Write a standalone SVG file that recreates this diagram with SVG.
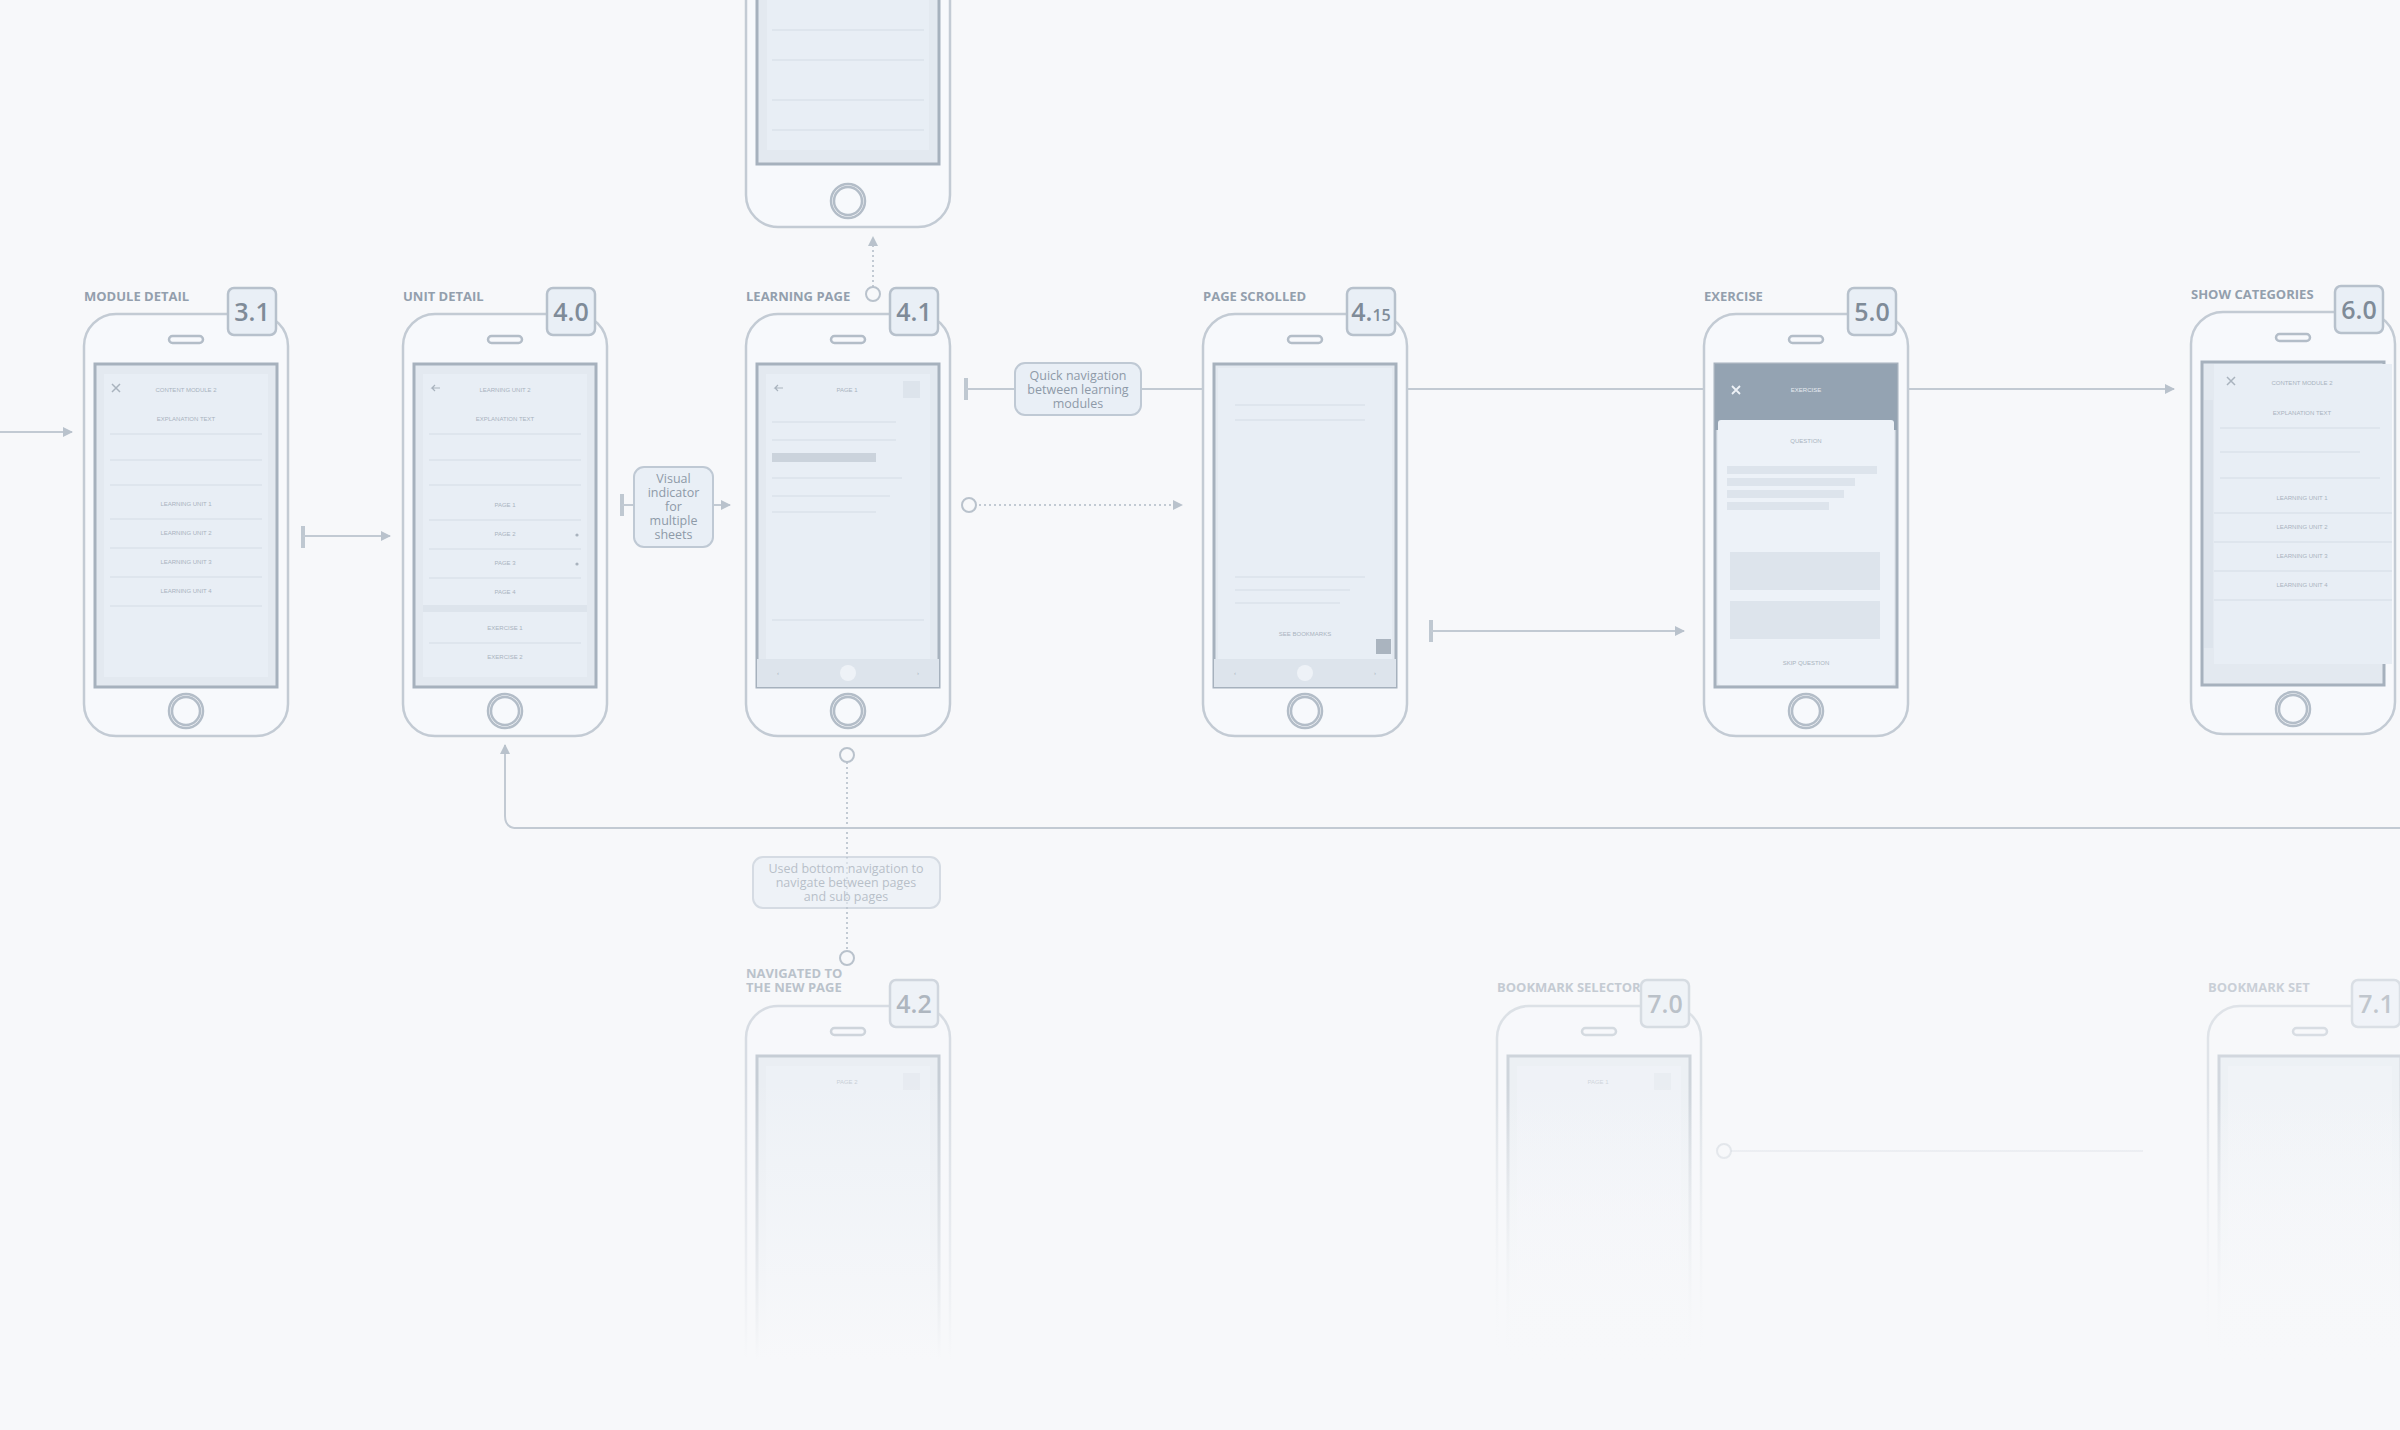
<svg xmlns="http://www.w3.org/2000/svg" width="2400" height="1430" viewBox="0 0 2400 1430">
<style>
.bg{fill:#f7f8fa}
.body{fill:#f7f9fc;stroke:#c3cbd4;stroke-width:2.5}
.scr{fill:#e3e9f0;stroke:#a6b1bd;stroke-width:3}
.pan{fill:#e8eef5}
.spk{fill:none;stroke:#b3bdc8;stroke-width:2.5}
.home{fill:none;stroke:#b3bdc8;stroke-width:2.5}
.ttl{font-family:"Open Sans","Liberation Sans",sans-serif;font-size:13px;font-weight:700;fill:#939fad}
.bdg{fill:#e9eff6;stroke:#b7c1cc;stroke-width:2.5}
.num{font-family:"Open Sans","Liberation Sans",sans-serif;font-size:25px;font-weight:600;fill:#7f8b98}
.tiny{font-family:"Liberation Sans",sans-serif;font-size:6px;fill:#a9b3be;text-anchor:middle}
.row{stroke:#dbe2ea;stroke-width:1.5}
.ln{fill:none;stroke:#c2cad3;stroke-width:2}
.bar{stroke:#bfc8d1;stroke-width:4}
.dot{fill:none;stroke:#c2cad3;stroke-width:2;stroke-dasharray:2 3}
.cir{fill:#f7f8fa;stroke:#b9c2cc;stroke-width:2}
.note{fill:#e9eff6;stroke:#bfc9d4;stroke-width:2}
.nt{font-family:"Open Sans","Liberation Sans",sans-serif;font-size:12.5px;fill:#8e9aa8;text-anchor:middle}
.blk{fill:#dde4ec}
.dark{fill:#94a3b2}
</style>
<defs>
<marker id="ar" viewBox="0 0 10 10" refX="9" refY="5" markerWidth="5" markerHeight="5" orient="auto"><path d="M0,0L10,5L0,10z" fill="#b9c2cc"/></marker>
<symbol id="phone" overflow="visible">
<rect class="body" x="0" y="0" width="204" height="422" rx="32"/>
<rect class="spk" x="85" y="22" width="34" height="7" rx="3.5"/>
<rect class="scr" x="11" y="50" width="182" height="323"/>
<circle class="home" cx="102" cy="397" r="17"/>
<circle class="home" cx="102" cy="397" r="14"/>
</symbol>
<linearGradient id="fade" x1="0" y1="0" x2="0" y2="1">
<stop offset="0" stop-color="#f7f8fa" stop-opacity="0"/>
<stop offset="0.8" stop-color="#f7f8fa" stop-opacity="1"/>
</linearGradient>
</defs>
<rect class="bg" width="2400" height="1430"/>

<g id="connectors">
<path class="ln" d="M0,432H72" marker-end="url(#ar)"/>
<path class="bar" d="M303,526V548"/><path class="ln" d="M303,536H390" marker-end="url(#ar)"/>
<path class="bar" d="M622,494V516"/><path class="ln" d="M622,505H634"/>
<path class="ln" d="M713,505H730" marker-end="url(#ar)"/>
<path class="bar" d="M966,378V400"/><path class="ln" d="M966,389H1015"/>
<path class="ln" d="M1141,389H2174" marker-end="url(#ar)"/>
<path class="dot" d="M979,505H1182" marker-end="url(#ar)"/>
<circle class="cir" cx="969" cy="505" r="7"/>
<path class="bar" d="M1431,620V642"/><path class="ln" d="M1431,631H1684" marker-end="url(#ar)"/>
<path class="dot" d="M873,287V237" marker-end="url(#ar)"/>
<circle class="cir" cx="873" cy="294" r="7"/>
<path class="ln" d="M2400,828H517Q505,828 505,816V745" marker-end="url(#ar)"/>
<path class="dot" d="M847,762V951"/>
<circle class="cir" cx="847" cy="755" r="7"/>
<circle class="cir" cx="847" cy="958" r="7"/>
<path class="ln" d="M1731,1151H2143" opacity="0.35"/>
<circle class="cir" cx="1724" cy="1151" r="7" opacity="0.5"/>
</g>

<g id="note-visual">
<rect class="note" x="634" y="467" width="79" height="80" rx="10"/>
<text class="nt" x="673.5" y="483">Visual</text>
<text class="nt" x="673.5" y="497">indicator</text>
<text class="nt" x="673.5" y="511">for</text>
<text class="nt" x="673.5" y="525">multiple</text>
<text class="nt" x="673.5" y="539">sheets</text>
</g>
<g id="note-quick">
<rect class="note" x="1015" y="363" width="126" height="52" rx="10"/>
<text class="nt" x="1078" y="380">Quick navigation</text>
<text class="nt" x="1078" y="394">between learning</text>
<text class="nt" x="1078" y="408">modules</text>
</g>
<g id="note-bottom" opacity="0.6">
<rect class="note" x="753" y="857" width="187" height="51" rx="10"/>
<text class="nt" x="846" y="873">Used bottom navigation to</text>
<text class="nt" x="846" y="887">navigate between pages</text>
<text class="nt" x="846" y="901">and sub pages</text>
</g>

<g id="phone-top">
<rect class="body" x="746" y="-200" width="204" height="427" rx="32"/>
<rect class="scr" x="757" y="-10" width="182" height="174"/>
<rect class="pan" x="767" y="0" width="162" height="150"/>
<line class="row" x1="772" y1="30" x2="924" y2="30"/><line class="row" x1="772" y1="60" x2="924" y2="60"/><line class="row" x1="772" y1="100" x2="924" y2="100"/><line class="row" x1="772" y1="130" x2="924" y2="130"/>
<circle class="home" cx="848" cy="201" r="17"/><circle class="home" cx="848" cy="201" r="14"/>
</g>

<g id="n31">
<text class="ttl" x="84" y="301">MODULE DETAIL</text>
<use href="#phone" x="84" y="314"/>
<rect class="pan" x="104" y="374" width="164" height="303"/>
<text class="tiny" x="186" y="392">CONTENT MODULE 2</text>
<path d="M112,384l8,8M120,384l-8,8" stroke="#a9b3be" stroke-width="1.5"/>
<text class="tiny" x="186" y="421">EXPLANATION TEXT</text>
<line class="row" x1="110" y1="434" x2="262" y2="434"/><line class="row" x1="110" y1="460" x2="262" y2="460"/><line class="row" x1="110" y1="485" x2="262" y2="485"/>
<text class="tiny" x="186" y="506">LEARNING UNIT 1</text><line class="row" x1="110" y1="519" x2="262" y2="519"/>
<text class="tiny" x="186" y="535">LEARNING UNIT 2</text><line class="row" x1="110" y1="548" x2="262" y2="548"/>
<text class="tiny" x="186" y="564">LEARNING UNIT 3</text><line class="row" x1="110" y1="577" x2="262" y2="577"/>
<text class="tiny" x="186" y="593">LEARNING UNIT 4</text><line class="row" x1="110" y1="606" x2="262" y2="606"/>
<rect class="bdg" x="228" y="288" width="48" height="47" rx="6"/>
<text class="num" x="252" y="321" text-anchor="middle">3.1</text>
</g>

<g id="n40">
<text class="ttl" x="403" y="301">UNIT DETAIL</text>
<use href="#phone" x="403" y="314"/>
<rect class="pan" x="423" y="374" width="164" height="303"/>
<text class="tiny" x="505" y="392">LEARNING UNIT 2</text>
<path d="M440,388h-8l3,-3M432,388l3,3" stroke="#a9b3be" stroke-width="1.2" fill="none"/>
<text class="tiny" x="505" y="421">EXPLANATION TEXT</text>
<line class="row" x1="429" y1="434" x2="581" y2="434"/><line class="row" x1="429" y1="460" x2="581" y2="460"/><line class="row" x1="429" y1="485" x2="581" y2="485"/>
<text class="tiny" x="505" y="507">PAGE 1</text><line class="row" x1="429" y1="520" x2="581" y2="520"/>
<text class="tiny" x="505" y="536">PAGE 2</text><circle cx="577" cy="535" r="1.6" fill="#a9b3be"/><line class="row" x1="429" y1="549" x2="581" y2="549"/>
<text class="tiny" x="505" y="565">PAGE 3</text><circle cx="577" cy="564" r="1.6" fill="#a9b3be"/><line class="row" x1="429" y1="578" x2="581" y2="578"/>
<text class="tiny" x="505" y="594">PAGE 4</text>
<rect class="blk" x="423" y="605" width="164" height="7"/>
<text class="tiny" x="505" y="630">EXERCISE 1</text><line class="row" x1="429" y1="643" x2="581" y2="643"/>
<text class="tiny" x="505" y="659">EXERCISE 2</text>
<rect class="bdg" x="547" y="288" width="48" height="47" rx="6"/>
<text class="num" x="571" y="321" text-anchor="middle">4.0</text>
</g>

<g id="n41">
<text class="ttl" x="746" y="301">LEARNING PAGE</text>
<use href="#phone" x="746" y="314"/>
<rect class="pan" x="766" y="374" width="164" height="285"/>
<text class="tiny" x="847" y="392">PAGE 1</text>
<path d="M783,388h-8l3,-3M775,388l3,3" stroke="#a9b3be" stroke-width="1.2" fill="none"/>
<rect class="blk" x="903" y="381" width="17" height="17"/>
<line class="row" x1="772" y1="422" x2="896" y2="422"/><line class="row" x1="772" y1="440" x2="896" y2="440"/>
<rect x="772" y="453" width="104" height="9" fill="#cbd3dc"/>
<line class="row" x1="772" y1="478" x2="902" y2="478"/><line class="row" x1="772" y1="496" x2="890" y2="496"/><line class="row" x1="772" y1="512" x2="876" y2="512"/>
<line class="row" x1="772" y1="620" x2="924" y2="620"/>
<rect class="blk" x="757" y="659" width="182" height="28"/>
<circle cx="848" cy="673" r="8" fill="#eef2f7"/>
<text class="tiny" x="778" y="675">‹</text><text class="tiny" x="918" y="675">›</text>
<rect class="bdg" x="890" y="288" width="48" height="47" rx="6"/>
<text class="num" x="914" y="321" text-anchor="middle">4.1</text>
</g>

<g id="n415">
<text class="ttl" x="1203" y="301">PAGE SCROLLED</text>
<use href="#phone" x="1203" y="314"/>
<rect class="pan" x="1218" y="368" width="174" height="291"/>
<line class="row" x1="1235" y1="405" x2="1365" y2="405"/><line class="row" x1="1235" y1="420" x2="1365" y2="420"/>
<line class="row" x1="1235" y1="577" x2="1365" y2="577"/><line class="row" x1="1235" y1="590" x2="1350" y2="590"/><line class="row" x1="1235" y1="603" x2="1340" y2="603"/>
<text class="tiny" x="1305" y="636">SEE BOOKMARKS</text>
<rect x="1376" y="639" width="15" height="15" fill="#aab4bf"/>
<rect class="blk" x="1214" y="659" width="182" height="28"/>
<circle cx="1305" cy="673" r="8" fill="#eef2f7"/>
<text class="tiny" x="1235" y="675">‹</text><text class="tiny" x="1375" y="675">›</text>
<rect class="bdg" x="1347" y="288" width="48" height="47" rx="6"/>
<text class="num" x="1371" y="321" text-anchor="middle">4.<tspan font-size="16">15</tspan></text>
</g>

<g id="n50">
<text class="ttl" x="1704" y="301">EXERCISE</text>
<use href="#phone" x="1704" y="314"/>
<rect class="dark" x="1715" y="364" width="182" height="66"/>
<path d="M1732,386l8,8M1740,386l-8,8" stroke="#eef2f7" stroke-width="1.8"/>
<text class="tiny" x="1806" y="392" style="fill:#e6ebf1">EXERCISE</text>
<rect x="1718" y="420" width="176" height="265" rx="3" fill="#edf2f8"/>
<text class="tiny" x="1806" y="443">QUESTION</text>
<rect class="blk" x="1727" y="466" width="150" height="8"/><rect class="blk" x="1727" y="478" width="128" height="8"/><rect class="blk" x="1727" y="490" width="117" height="8"/><rect class="blk" x="1727" y="502" width="102" height="8"/>
<rect class="blk" x="1730" y="552" width="150" height="38"/><rect class="blk" x="1730" y="601" width="150" height="38"/>
<text class="tiny" x="1806" y="665">SKIP QUESTION</text>
<rect class="bdg" x="1848" y="288" width="48" height="47" rx="6"/>
<text class="num" x="1872" y="321" text-anchor="middle">5.0</text>
</g>

<g id="n60">
<text class="ttl" x="2191" y="299">SHOW CATEGORIES</text>
<use href="#phone" x="2191" y="312"/>
<rect class="blk" x="2204" y="400" width="9" height="248"/>
<rect class="pan" x="2214" y="364" width="178" height="300"/>
<path d="M2227,377l8,8M2235,377l-8,8" stroke="#a9b3be" stroke-width="1.5"/>
<text class="tiny" x="2302" y="385">CONTENT MODULE 2</text>
<text class="tiny" x="2302" y="415">EXPLANATION TEXT</text>
<line class="row" x1="2220" y1="428" x2="2380" y2="428"/><line class="row" x1="2220" y1="452" x2="2360" y2="452"/><line class="row" x1="2220" y1="478" x2="2380" y2="478"/>
<text class="tiny" x="2302" y="500">LEARNING UNIT 1</text><line class="row" x1="2214" y1="513" x2="2392" y2="513"/>
<text class="tiny" x="2302" y="529">LEARNING UNIT 2</text><line class="row" x1="2214" y1="542" x2="2392" y2="542"/>
<text class="tiny" x="2302" y="558">LEARNING UNIT 3</text><line class="row" x1="2214" y1="571" x2="2392" y2="571"/>
<text class="tiny" x="2302" y="587">LEARNING UNIT 4</text><line class="row" x1="2214" y1="600" x2="2392" y2="600"/>
<rect class="bdg" x="2335" y="286" width="48" height="47" rx="6"/>
<text class="num" x="2359" y="319" text-anchor="middle">6.0</text>
</g>

<g id="n42" opacity="0.6">
<text class="ttl" x="746" y="978">NAVIGATED TO</text>
<text class="ttl" x="746" y="992">THE NEW PAGE</text>
<use href="#phone" x="746" y="1006"/>
<rect class="pan" x="766" y="1066" width="164" height="300"/>
<text class="tiny" x="847" y="1084">PAGE 2</text>
<rect class="blk" x="903" y="1073" width="17" height="17"/>
<rect class="bdg" x="890" y="980" width="48" height="47" rx="6"/>
<text class="num" x="914" y="1013" text-anchor="middle">4.2</text>
</g>
<g id="n70" opacity="0.5">
<text class="ttl" x="1497" y="992">BOOKMARK SELECTOR</text>
<use href="#phone" x="1497" y="1006"/>
<rect class="pan" x="1517" y="1066" width="164" height="300"/>
<text class="tiny" x="1598" y="1084">PAGE 1</text>
<rect class="blk" x="1654" y="1073" width="17" height="17"/>
<rect class="bdg" x="1641" y="980" width="48" height="47" rx="6"/>
<text class="num" x="1665" y="1013" text-anchor="middle">7.0</text>
</g>
<g id="n71" opacity="0.45">
<text class="ttl" x="2208" y="992">BOOKMARK SET</text>
<use href="#phone" x="2208" y="1006"/>
<rect class="pan" x="2228" y="1066" width="164" height="300"/>
<rect class="bdg" x="2352" y="980" width="48" height="47" rx="6"/>
<text class="num" x="2376" y="1013" text-anchor="middle">7.1</text>
</g>
<rect x="0" y="1080" width="2400" height="350" fill="url(#fade)"/>
<rect x="1400" y="1100" width="1000" height="330" fill="url(#fade)"/>
</svg>
